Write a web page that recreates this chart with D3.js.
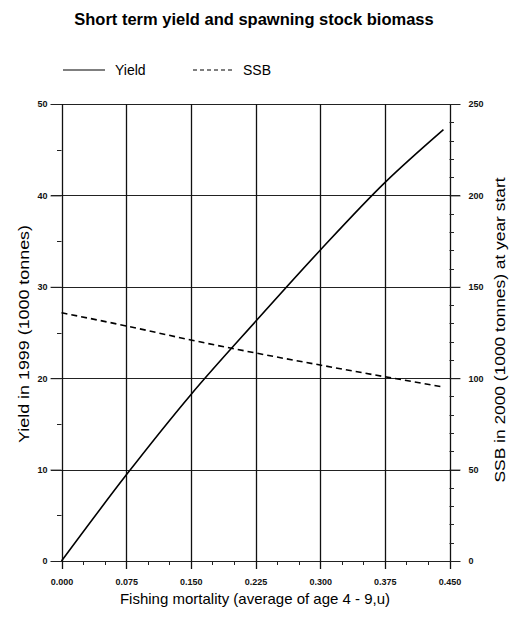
<!DOCTYPE html>
<html>
<head>
<meta charset="utf-8">
<script src="https://cdn.jsdelivr.net/npm/d3@7"></script>
<style>
  html, body { margin: 0; padding: 0; background: #fff; }
  svg { display: block; }
</style>
</head>
<body>
<div id="chart"></div>
<script>
// Fishing mortality values at which the projection was evaluated
const fishingMortality = [0, 0.075, 0.15, 0.225, 0.3, 0.375, 0.443];
// Yield in 1999 (1000 tonnes)
const yieldValues = [0, 9.4, 18.2, 26.2, 34.0, 41.4, 47.2];
// SSB in 2000 at year start (1000 tonnes)
const ssbValues = [135.8, 128.6, 120.9, 113.8, 107.2, 100.8, 95.2];

const xTicks = [0, 0.075, 0.15, 0.225, 0.3, 0.375, 0.45];
const yieldTicks = [0, 10, 20, 30, 40, 50];
const ssbTicks = [0, 50, 100, 150, 200, 250];

const W = 525, H = 619;
const svg = d3.select("#chart").append("svg")
  .attr("width", W).attr("height", H)
  .style("font-family", "'Liberation Sans', Arial, sans-serif");

const x = d3.scaleLinear().domain([0, 0.45]).range([61.5, 449.5]);
const yL = d3.scaleLinear().domain([0, 50]).range([561, 104]);
const yR = d3.scaleLinear().domain([0, 250]).range([561, 104]);

const gridColor = "#222";

// horizontal grid lines at the yield ticks (they run out to both tick ends)
svg.append("g").selectAll("line").data(yieldTicks).join("line")
  .attr("x1", 51).attr("x2", 460)
  .attr("y1", d => Math.round(yL(d)) + 0.5).attr("y2", d => Math.round(yL(d)) + 0.5)
  .attr("stroke", gridColor).attr("stroke-width", 1.1);

// vertical grid lines at the mortality ticks, reaching below the baseline
svg.append("g").selectAll("line").data(xTicks).join("line")
  .attr("x1", d => Math.round(x(d)) + 0.5).attr("x2", d => Math.round(x(d)) + 0.5)
  .attr("y1", yL(50)).attr("y2", 569)
  .attr("stroke", "#111").attr("stroke-width", 1.3);

// left axis: major ticks outward, minor ticks at the half steps
const leftAxis = d3.axisLeft(yL).tickValues(yieldTicks).tickSize(11).tickPadding(3)
  .tickFormat(d3.format("d"));
const gL = svg.append("g").attr("transform", "translate(61.5,0)").call(leftAxis);
gL.select(".domain").remove();
gL.selectAll(".tick line").attr("stroke", gridColor);
gL.selectAll(".tick text").attr("font-size", 9).attr("font-weight", "bold").attr("fill", "#111");
svg.append("g").selectAll("line").data(d3.range(5, 50, 10)).join("line")
  .attr("x1", 57).attr("x2", 61.5)
  .attr("y1", d => Math.round(yL(d)) + 0.5).attr("y2", d => Math.round(yL(d)) + 0.5)
  .attr("stroke", gridColor);

// right axis (SSB): major ticks outward, minor ticks every 10
const rightAxis = d3.axisRight(yR).tickValues(ssbTicks).tickSize(11).tickPadding(8)
  .tickFormat(d3.format("d"));
const gR = svg.append("g").attr("transform", "translate(449.5,0)").call(rightAxis);
gR.select(".domain").remove();
gR.selectAll(".tick line").attr("stroke", gridColor);
gR.selectAll(".tick text").attr("font-size", 9).attr("font-weight", "bold").attr("fill", "#111");
svg.append("g").selectAll("line").data(d3.range(10, 250, 10).filter(d => d % 50 !== 0)).join("line")
  .attr("x1", 449.5).attr("x2", 454)
  .attr("y1", d => Math.round(yR(d)) + 0.5).attr("y2", d => Math.round(yR(d)) + 0.5)
  .attr("stroke", gridColor);

// bottom axis labels and minor ticks
const bottomAxis = d3.axisBottom(x).tickValues(xTicks).tickSize(0).tickPadding(18)
  .tickFormat(d3.format(".3f"));
const gB = svg.append("g").attr("transform", "translate(0,561)").call(bottomAxis);
gB.select(".domain").remove();
gB.selectAll(".tick text").attr("font-size", 9).attr("font-weight", "bold").attr("fill", "#111");
svg.append("g").selectAll("line")
  .data(d3.range(1, 18).map(i => i * 0.025).filter((d, i) => (i + 1) % 3 !== 0))
  .join("line")
  .attr("x1", d => Math.round(x(d)) + 0.5).attr("x2", d => Math.round(x(d)) + 0.5)
  .attr("y1", 561).attr("y2", 565)
  .attr("stroke", gridColor);

// data series
const pts = fishingMortality.map((f, i) => ({ f, y: yieldValues[i], s: ssbValues[i] }));

svg.append("path").datum(pts)
  .attr("fill", "none").attr("stroke", "#000").attr("stroke-width", 1.6)
  .attr("d", d3.line().x(d => x(d.f)).y(d => yL(d.y)).curve(d3.curveMonotoneX));

svg.append("path").datum(pts)
  .attr("fill", "none").attr("stroke", "#000").attr("stroke-width", 1.6)
  .attr("stroke-dasharray", "6,4")
  .attr("d", d3.line().x(d => x(d.f)).y(d => yR(d.s)).curve(d3.curveMonotoneX));

// title
svg.append("text").attr("x", 254).attr("y", 25).attr("text-anchor", "middle")
  .attr("font-size", 16.5).attr("font-weight", "bold").attr("fill", "#000")
  .text("Short term yield and spawning stock biomass");

// legend
const legY = 70;
svg.append("line").attr("x1", 63).attr("x2", 105).attr("y1", legY).attr("y2", legY)
  .attr("stroke", "#000").attr("stroke-width", 1.2);
svg.append("text").attr("x", 115).attr("y", legY + 5).attr("font-size", 14).text("Yield");
svg.append("line").attr("x1", 193).attr("x2", 233).attr("y1", legY).attr("y2", legY)
  .attr("stroke", "#000").attr("stroke-width", 1.2).attr("stroke-dasharray", "4,3");
svg.append("text").attr("x", 243).attr("y", legY + 5).attr("font-size", 14).text("SSB");

// axis titles
svg.append("text").attr("x", 255).attr("y", 604).attr("text-anchor", "middle")
  .attr("font-size", 15).text("Fishing mortality (average of age 4 - 9,u)");

svg.append("text")
  .attr("transform", "translate(29,334) rotate(-90)")
  .attr("text-anchor", "middle").attr("font-size", 14.5)
  .attr("textLength", 218).attr("lengthAdjust", "spacingAndGlyphs")
  .text("Yield in 1999 (1000 tonnes)");

svg.append("text")
  .attr("transform", "translate(505,330) rotate(-90)")
  .attr("text-anchor", "middle").attr("font-size", 14.5)
  .attr("textLength", 305).attr("lengthAdjust", "spacingAndGlyphs")
  .text("SSB in 2000 (1000 tonnes) at year start");
</script>
</body>
</html>
